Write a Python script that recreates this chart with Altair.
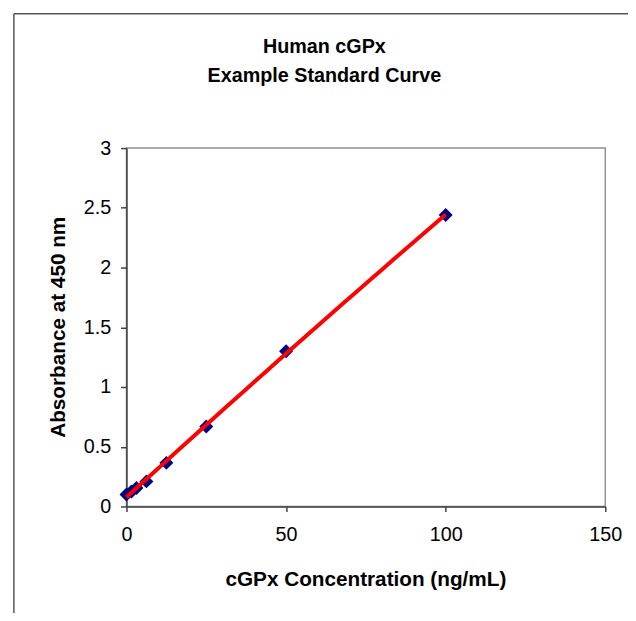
import altair as alt
import pandas as pd

conc = [0, 1.56, 3.125, 6.25, 12.5, 25, 50, 100]
absorb = [0.10, 0.125, 0.155, 0.21, 0.365, 0.67, 1.30, 2.44]
x_ticks = [0, 50, 100, 150]
y_ticks = [0, 0.5, 1, 1.5, 2, 2.5, 3]

df = pd.DataFrame({"conc": conc, "abs": absorb})
FONT = "Liberation Sans"

xenc = alt.X("conc:Q", scale=alt.Scale(domain=[0, 150], nice=False, zero=True),
             axis=alt.Axis(values=x_ticks, title="cGPx Concentration (ng/mL)", grid=False,
                           format="~f",
                           tickSize=5, labelPadding=13, labelFontSize=20, labelFont=FONT,
                           labelColor="black", titleFont=FONT, titleFontSize=21,
                           titleFontWeight="bold", titleColor="black",
                           titleX=242, titleY=74, titleBaseline="middle",
                           domainColor="#404040", domainWidth=1.5, tickColor="#404040",
                           tickWidth=1.5, labelFlush=False))
yenc = alt.Y("abs:Q", scale=alt.Scale(domain=[0, 3], nice=False),
             axis=alt.Axis(values=y_ticks, title="Absorbance at 450 nm", grid=False,
                           format="~f",
                           tickSize=6, labelPadding=10, labelFontSize=20, labelFont=FONT,
                           labelColor="black", titleFont=FONT, titleFontSize=21,
                           titleFontWeight="bold", titleColor="black",
                           titleX=-69, titleY=181, titleBaseline="middle", titleAlign="center",
                           titleAngle=270,
                           domainColor="#404040", domainWidth=1.5, tickColor="#404040",
                           tickWidth=1.5, labelFlush=False))

frame = alt.Chart(pd.DataFrame({"a": [0]})).mark_rect(
    fill=None, stroke="black", strokeWidth=1
).encode(x=alt.value(-114), x2=alt.value(900), y=alt.value(-136), y2=alt.value(900))

points = alt.Chart(df).mark_point(
    shape="diamond", filled=True, color="#000080", size=200, opacity=1
).encode(x=xenc, y=yenc)

line = alt.Chart(df).transform_regression(
    "conc", "abs", method="poly", order=2
).mark_line(color="#ff0000", strokeWidth=4).encode(x="conc:Q", y="abs:Q")

chart = alt.layer(frame, points, line).properties(
    width=485, height=363,
    autosize=alt.AutoSizeParams(type="none"),
    padding={"left": 120, "top": 138, "right": 23, "bottom": 104},
    title=alt.TitleParams(
        text=["Human cGPx", "Example Standard Curve"],
        font=FONT, fontSize=20, fontWeight="bold", color="black",
        anchor="middle", frame="group", dx=-42, dy=74, lineHeight=30, offset=0
    ),
    background="white",
).configure_view(stroke="#909090", strokeWidth=1.5)

chart.save("out.html", embed_options={"renderer": "svg", "actions": False})
